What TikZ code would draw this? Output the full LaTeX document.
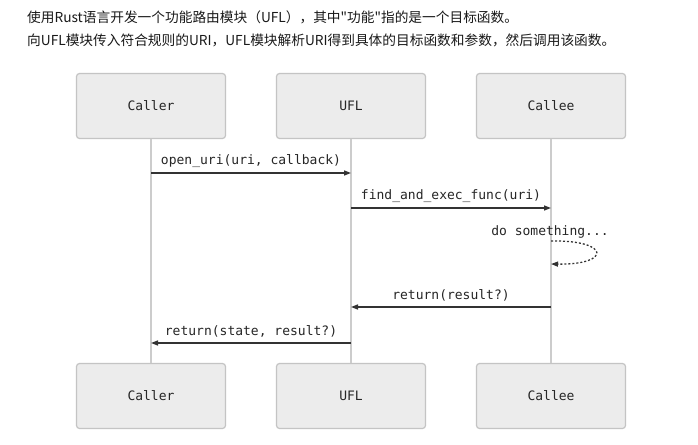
\documentclass[tikz,border=0pt]{standalone}
\usepackage{fontspec}
\setmonofont{DejaVu Sans Mono}
\newfontfamily\cjk{Noto Sans CJK SC}
\usetikzlibrary{arrows.meta}
\definecolor{boxfill}{HTML}{ECECEC}
\definecolor{boxline}{HTML}{C4C4C4}
\definecolor{lifeline}{HTML}{CCCCCC}
\definecolor{msg}{HTML}{333333}
\begin{document}
\begin{tikzpicture}[x=1pt,y=-1pt,
  actor/.style={draw=boxline,fill=boxfill,rounded corners=3pt,line width=1.2pt,minimum width=149pt,minimum height=65pt,font=\ttfamily\fontsize{13}{15}\selectfont,text=black!85},
  life/.style={draw=lifeline,line width=1.3pt},
  msgline/.style={draw=msg,line width=1.4pt,-{Triangle[length=7pt,width=5pt]}},
  selfline/.style={draw=msg,line width=1.3pt,dash pattern=on 2pt off 2pt,-{Triangle[length=7pt,width=5pt]}},
  lbl/.style={font=\ttfamily\fontsize{13}{15}\selectfont,text=black!85,inner sep=0pt},
  head/.style={font=\cjk\fontsize{13.7}{16}\selectfont,text=black!90,anchor=west,inner sep=0pt}]
\useasboundingbox (0,0) rectangle (698,444);
\fill[white] (0,0) rectangle (698,444);
\node[head] (h1) at (27,17) {使用Rust语言开发一个功能路由模块（UFL），其中"功能"指的是一个目标函数。};
\node[head] (h2) at (27,40) {向UFL模块传入符合规则的URI，UFL模块解析URI得到具体的目标函数和参数，然后调用该函数。};
\node[actor] (caT) at (151,106) {Caller};
\node[actor] (ufT) at (351,106) {UFL};
\node[actor] (ceT) at (551,106) {Callee};
\node[actor] (caB) at (151,396) {Caller};
\node[actor] (ufB) at (351,396) {UFL};
\node[actor] (ceB) at (551,396) {Callee};
\draw[life] (caT.south) -- (caB.north);
\draw[life] (ufT.south) -- (ufB.north);
\draw[life] (ceT.south) -- (ceB.north);
\coordinate (ca1) at (151,173);
\coordinate (uf1) at (351,173);
\coordinate (uf2) at (351,208);
\coordinate (ce2) at (551,208);
\coordinate (ce3a) at (551,241);
\coordinate (ce3b) at (551,264);
\coordinate (ce4) at (551,307);
\coordinate (uf4) at (351,307);
\coordinate (uf5) at (351,343);
\coordinate (ca5) at (151,343);
\draw[msgline] (ca1) -- node[lbl,above=5pt] (m1) {open\_uri(uri, callback)} (uf1);
\draw[msgline] (uf2) -- node[lbl,above=5pt] (m2) {find\_and\_exec\_func(uri)} (ce2);
\node[lbl] (m3) at (550,232) {do something...};
\draw[selfline] (ce3a) .. controls (611,240) and (611,265) .. (ce3b);
\draw[msgline] (ce4) -- node[lbl,above=5pt] (m4) {return(result?)} (uf4);
\draw[msgline] (uf5) -- node[lbl,above=5pt] (m5) {return(state, result?)} (ca5);
\end{tikzpicture}
\end{document}
